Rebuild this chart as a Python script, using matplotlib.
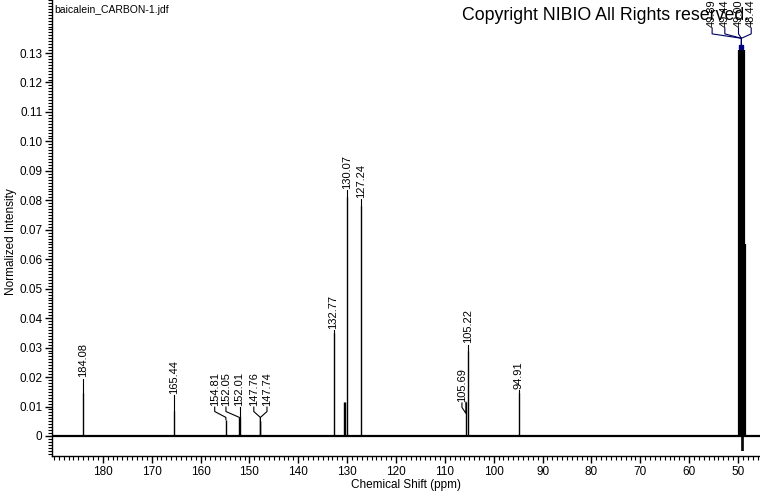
import matplotlib
matplotlib.use("Agg")
import matplotlib.pyplot as plt
from matplotlib.ticker import MultipleLocator

plt.rcParams['font.family'] = ['Liberation Sans', 'DejaVu Sans']

# peaks (ppm, normalized height)
peak_ppm = [184.08, 165.44, 154.81, 152.05, 152.01, 147.76, 147.74,
            132.77, 130.70, 130.50, 130.07, 127.24, 105.69, 105.22, 94.91]
peak_height = [0.0145, 0.0085, 0.0055, 0.0060, 0.0065, 0.0050, 0.0050,
               0.0350, 0.0115, 0.0115, 0.0810, 0.0780, 0.0115, 0.0290, 0.0146]

# solvent multiplet (CD3OD)
solvent_ppm = [49.85, 49.64, 49.43, 49.21, 49.00, 48.79, 48.57]
solvent_height = [0.131, 0.131, 0.131, 0.131, 0.131, 0.131, 0.065]
solvent_dip = -0.005

# picked peak labels
label_text = ['184.08', '165.44', '154.81', '152.05', '152.01', '147.76', '147.74',
              '132.77', '130.07', '127.24', '105.69', '105.22', '94.91']
label_peak = [184.08, 165.44, 154.81, 152.05, 152.01, 147.76, 147.74,
              132.77, 130.07, 127.24, 105.69, 105.22, 94.91]
solvent_labels = ['49.89', '49.44', '49.00', '48.44']
solvent_label_peak = [49.85, 49.43, 49.00, 48.57]

# label layout: text x position (ppm) and text bottom (intensity)
label_x = [184.08, 165.44, 157.10, 154.80, 152.01, 149.10, 146.40,
           132.77, 130.07, 127.24, 106.50, 105.22, 94.91]
label_bottom = [0.0195, 0.0140, 0.0098, 0.0098, 0.0098, 0.0098, 0.0098,
                0.0360, 0.0835, 0.0805, 0.0112, 0.0310, 0.0155]
solvent_label_x = [55.3, 52.7, 49.9, 47.3]

fig = plt.figure(figsize=(7.6, 4.92), dpi=100)
ax = fig.add_axes([52 / 760, 36 / 492, 1 - 52 / 760, 1 - 36 / 492])

ax.set_xlim(190.4, 45.5)
ax.set_ylim(-0.0068, 0.148)

# baseline
ax.plot([190.4, 45.5], [0, 0], color='black', lw=1.6, zorder=2)

ax.vlines(peak_ppm, 0, peak_height, color='black', lw=1.0)
ax.vlines(solvent_ppm, 0, solvent_height, color='black', lw=1.6)
ax.vlines([49.2, 48.9], solvent_dip, 0, color='black', lw=1.2)

# leaders and labels
heights = dict(zip(peak_ppm, peak_height))
for txt, p, tx, tb in zip(label_text, label_peak, label_x, label_bottom):
    h = heights[p]
    if abs(tx - p) > 0.05:
        xs = [p, p, tx, tx]
        ys = [h, tb - 0.0035, tb - 0.0015, tb]
    else:
        xs = [p, p]
        ys = [h, tb]
    ax.plot(xs, ys, color='black', lw=0.8)
    ax.text(tx, tb + 0.0004, txt, rotation=90, ha='center', va='bottom', fontsize=8)

for txt, p, tx in zip(solvent_labels, solvent_label_peak, solvent_label_x):
    ax.plot([tx, tx, 49.3, 49.3], [0.1385, 0.1365, 0.1350, 0.1325],
            color='#000060', lw=0.8, clip_on=False)
    ax.text(tx, 0.1387, txt, rotation=90, ha='center', va='bottom', fontsize=8,
            clip_on=False)
ax.plot([49.3], [0.1322], marker='s', ms=3, color='#000080', clip_on=False)

for s in ['top', 'right']:
    ax.spines[s].set_visible(False)
ax.spines['left'].set_linewidth(1.0)
ax.spines['bottom'].set_linewidth(1.0)

ax.xaxis.set_major_locator(MultipleLocator(10))
ax.xaxis.set_minor_locator(MultipleLocator(1))
ax.yaxis.set_major_locator(MultipleLocator(0.01))
ax.yaxis.set_minor_locator(MultipleLocator(0.001))
ax.set_yticks([i / 100 for i in range(0, 14)])
ax.set_yticklabels(['0'] + ['%.2f' % (i / 100) for i in range(1, 14)])
ax.set_xticks(list(range(180, 45, -10)))
ax.set_xticklabels([str(v) for v in range(180, 45, -10)])
ax.tick_params(which='major', length=5, width=1, labelsize=8.5, pad=2)
ax.tick_params(which='minor', length=3, width=0.8)

ax.set_xlabel('Chemical Shift (ppm)', fontsize=8.5, labelpad=1)
ax.set_ylabel('Normalized Intensity', fontsize=8.5)
ax.yaxis.set_label_coords(-0.050, 0.47)

ax.text(0.003, 0.99, 'baicalein_CARBON-1.jdf', transform=ax.transAxes,
        fontsize=7.5, ha='left', va='top')
fig.text(462 / 760, 1 - 15 / 492, 'Copyright NIBIO All Rights reserved.',
         fontsize=12.8, ha='left', va='center')

fig.savefig('out.png', dpi=100)
